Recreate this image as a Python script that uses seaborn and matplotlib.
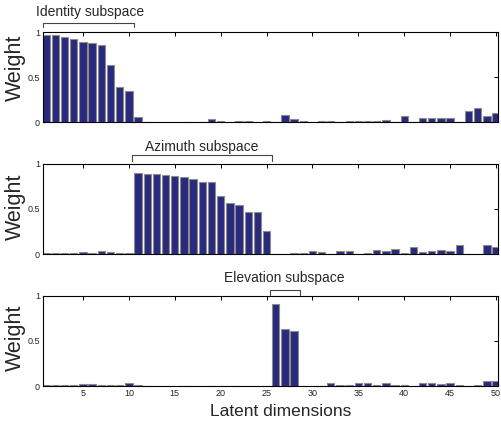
import numpy as np
import matplotlib
matplotlib.use("Agg")
import matplotlib.pyplot as plt
import seaborn as sns

DIMS = np.arange(1, 51)

IDENTITY = [0.97, 0.965, 0.948, 0.93, 0.892, 0.88, 0.86, 0.64, 0.39, 0.344,
            0.058, 0.006, 0.008, 0.005, 0.008, 0.006, 0.005, 0.005, 0.038, 0.01,
            0.008, 0.01, 0.01, 0.008, 0.012, 0.008, 0.08, 0.035, 0.01, 0.005,
            0.01, 0.01, 0.005, 0.015, 0.015, 0.017, 0.015, 0.022, 0.005, 0.066,
            0.004, 0.047, 0.053, 0.043, 0.05, 0.003, 0.125, 0.162, 0.072, 0.106]

AZIMUTH = [0.006, 0.006, 0.008, 0.008, 0.022, 0.008, 0.032, 0.018, 0.008, 0.01,
           0.903, 0.889, 0.889, 0.878, 0.867, 0.852, 0.837, 0.8, 0.796, 0.644,
           0.563, 0.548, 0.47, 0.47, 0.25, 0.003, 0.004, 0.016, 0.008, 0.037,
           0.026, 0.004, 0.037, 0.03, 0.004, 0.01, 0.044, 0.03, 0.056, 0.006,
           0.081, 0.026, 0.03, 0.048, 0.03, 0.104, 0.003, 0.005, 0.096, 0.076]

ELEVATION = [0.006, 0.015, 0.015, 0.008, 0.02, 0.02, 0.01, 0.012, 0.012, 0.03,
             0.01, 0.004, 0.003, 0.003, 0.005, 0.003, 0.003, 0.004, 0.005, 0.003,
             0.003, 0.004, 0.003, 0.005, 0.004, 0.911, 0.63, 0.611, 0.003, 0.003,
             0.005, 0.03, 0.01, 0.01, 0.035, 0.03, 0.01, 0.03, 0.015, 0.015,
             0.005, 0.03, 0.028, 0.02, 0.035, 0.008, 0.005, 0.008, 0.05, 0.057]

SUBSPACES = ["Identity subspace", "Azimuth subspace", "Elevation subspace"]
SPANS = [(1, 10), (11, 25), (26, 28)]

sns.set_style("white")
plt.rcParams["font.family"] = ["Liberation Sans", "DejaVu Sans"]

BAR_COLOR = "#29297e"
EDGE_COLOR = "#8c8c8c"
XLIM = (0.68, 50.25)

fig = plt.figure(figsize=(5.02, 4.22), dpi=100)
left, width, height = 0.0863, 0.9064, 0.2135
bottoms = [0.7102, 0.3981, 0.0853]

# bracket geometry per panel (axes fraction): line y, tick bottom, text baseline
brackets = [(1.10, 1.055, 1.18), (1.10, 1.035, 1.145), (1.067, 1.008, 1.155)]
text_x = [5.82, 17.97, 26.9]
label_y = [0.61, 0.52, 0.53]

for i, (vals, name, span) in enumerate(zip([IDENTITY, AZIMUTH, ELEVATION], SUBSPACES, SPANS)):
    ax = fig.add_axes([left, bottoms[i], width, height])
    sns.barplot(x=DIMS, y=vals, native_scale=True, color=BAR_COLOR,
                saturation=1, edgecolor=EDGE_COLOR, linewidth=0.8,
                width=0.8, ax=ax)
    ax.set_xlim(*XLIM)
    ax.set_ylim(0, 1)
    ax.set_yticks([0, 0.5, 1])
    ax.set_yticklabels(["0", "0.5", "1"])
    ax.set_xticks(range(5, 51, 5))
    ax.tick_params(direction="in", length=2.8, width=0.7, top=True, right=True,
                   labelsize=6.5, pad=2.5, color="black")
    if i < 2:
        ax.set_xticklabels([])
        ax.set_xlabel("")
    else:
        ax.set_xlabel("Latent dimensions", fontsize=12.5)
        ax.xaxis.set_label_coords(0.522, -0.2)
    for s in ax.spines.values():
        s.set_color("black")
        s.set_linewidth(0.8)
    ax.set_ylabel("Weight", fontsize=15.5, va="center")
    ax.yaxis.set_label_coords(-0.061, label_y[i])

    ly, tb, ty = brackets[i]
    x0 = max(span[0] - 0.66, XLIM[0])
    x1 = span[1] + 0.6
    tr = ax.get_xaxis_transform()
    ax.plot([x0, x0, x1, x1], [tb, ly, ly, tb], color="#444444", lw=0.8,
            transform=tr, clip_on=False)
    ax.text(text_x[i], ty, name, transform=tr, ha="center", va="baseline",
            fontsize=10)

fig.savefig("out.png", dpi=100)
